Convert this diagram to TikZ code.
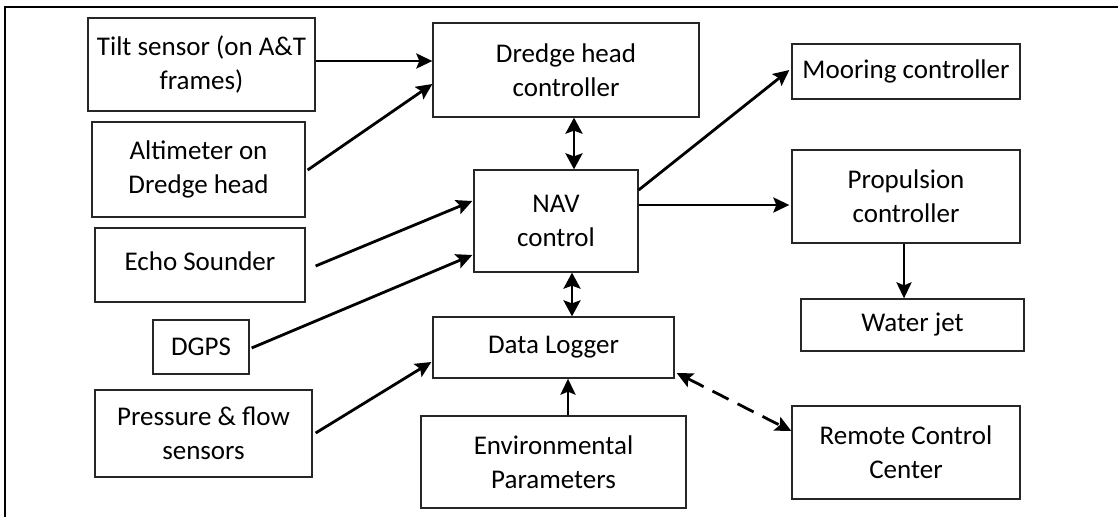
\documentclass[tikz,border=0pt]{standalone}
\usepackage{fontspec}
\setmainfont{Carlito}
\usetikzlibrary{arrows.meta}
\begin{document}
\begin{tikzpicture}[x=1pt,y=-1pt,
  blk/.style={draw=black!85,line width=1.3pt,inner sep=0pt,align=center,
    font=\fontsize{27}{34}\selectfont},
  conn/.style={line width=2.8pt,-{Stealth[length=16pt,width=15pt,inset=3pt]}},
  dconn/.style={line width=2.8pt,dash pattern=on 18pt off 10pt,{Stealth[length=16pt,width=15pt,inset=3pt]}-{Stealth[length=16pt,width=15pt,inset=3pt]}},
  bconn/.style={line width=2.8pt,{Stealth[length=16pt,width=17pt,inset=3pt]}-{Stealth[length=16pt,width=17pt,inset=3pt]}}]
\useasboundingbox (0,0) rectangle (1118,517);
\draw[line width=2pt] (5,517) -- (5,7) -- (1118,7);
% boxes: corner coordinates
\newcommand\mybox[6]{\node[blk,minimum width=#4-#2,minimum height=#5-#3] (#1) at ({(#2+#4)/2},{(#3+#5)/2}) {#6};}
\mybox{tilt}{88}{18}{315}{111}{Tilt sensor (on A\&T\\frames)}
\mybox{alt}{92}{122}{305}{217}{\fontsize{27}{40}\selectfont Altimeter on\\Dredge head}
\mybox{echo}{95}{228}{305}{302}{\raisebox{7pt}{Echo Sounder}}
\mybox{dgps}{153}{320}{249}{374}{DGPS}
\mybox{press}{95}{390}{312}{477}{Pressure \& flow\\sensors}
\mybox{dredge}{433}{23}{699}{117}{Dredge head\\controller}
\mybox{nav}{474}{170}{638}{272}{\fontsize{27}{43}\selectfont NAV\\control}
\mybox{log}{433}{317}{674}{378}{Data Logger}
\mybox{env}{421}{416}{686}{508}{\fontsize{27}{36}\selectfont Environmental\\Parameters}
\mybox{moor}{792}{44}{1020}{99}{Mooring controller}
\mybox{prop}{792}{150}{1020}{243}{Propulsion\\controller}
\mybox{jet}{801}{299}{1024}{351}{Water jet}
\mybox{rem}{792}{406}{1020}{499}{\fontsize{27}{36}\selectfont Remote Control\\Center}
% connectors
\draw[conn] (tilt.east |- 0,61) -- (dredge.west |- 0,61);
\draw[conn] ([xshift=2pt]alt.east |- 0,170) -- (dredge.west |- 0,84);
\draw[conn] ([xshift=10pt]echo.east |- 0,266) -- ([xshift=-1pt]nav.west |- 0,201);
\draw[conn] ([xshift=2pt]dgps.east |- 0,348) -- ([xshift=-1pt]nav.west |- 0,255);
\draw[conn] ([xshift=3pt]press.east |- 0,433) -- ([xshift=-1pt]log.west |- 0,362);
\draw[conn] (env.north -| 568,0) -- (log.south -| 568,0);
\draw[bconn] (dredge.south -| 574,0) -- (nav.north -| 574,0);
\draw[bconn] (nav.south -| 572,0) -- (log.north -| 572,0);
\draw[conn] (nav.east |- 0,190) -- ([xshift=-2pt]moor.west |- 0,70);
\draw[conn] (nav.east |- 0,205) -- ([xshift=-2pt]prop.west |- 0,205);
\draw[conn] (prop.south -| 904,0) -- (jet.north -| 904,0);
\draw[dconn] ([xshift=2pt]log.east |- 0,373) -- (rem.west |- 0,431);
\end{tikzpicture}
\end{document}
